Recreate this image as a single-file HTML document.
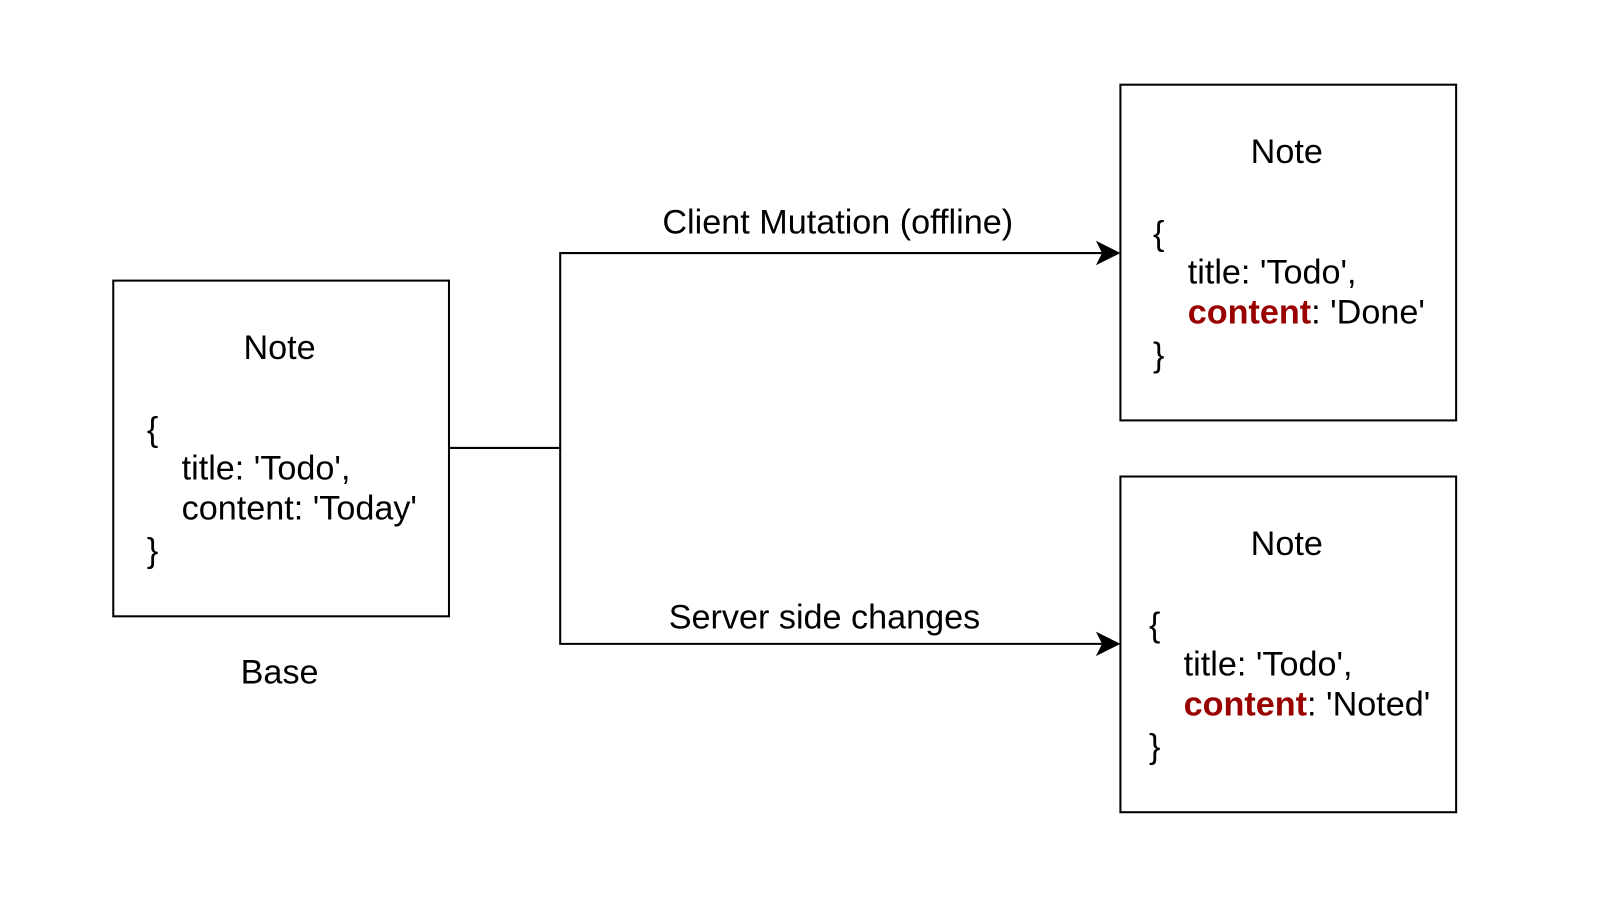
<!DOCTYPE html>
<html><head><meta charset="utf-8"><style>
html,body{margin:0;padding:0;background:#fff;}
svg{display:block;}
text{font-family:"Liberation Sans",Arial,sans-serif;font-size:33.5px;fill:#000;}
.r{fill:#990000;font-weight:bold;}
</style></head><body>
<svg width="1600" height="901" viewBox="0 0 1568 883" preserveAspectRatio="none" xmlns="http://www.w3.org/2000/svg">
<g fill="none" stroke="#000" stroke-width="2">
<rect x="111" y="275" width="329" height="329"/>
<rect x="1098" y="83" width="329" height="329"/>
<rect x="1098" y="467" width="329" height="329"/>
<path d="M440 439 H549 V248 H1086"/>
<path d="M549 439 V631 H1086"/>
</g>
<path d="M1074 236 L1098 248 L1074 260 L1080 248 Z" fill="#000"/>
<path d="M1074 619 L1098 631 L1074 643 L1080 631 Z" fill="#000"/>

<text x="274" y="352" text-anchor="middle">Note</text>
<text x="144" y="432">{</text>
<text x="178" y="470">title: 'Todo',</text>
<text x="178" y="509">content: 'Today'</text>
<text x="144" y="551">}</text>
<text x="274" y="670" text-anchor="middle">Base</text>

<text x="821" y="229" text-anchor="middle">Client Mutation (offline)</text>
<text x="808" y="616" text-anchor="middle">Server side changes</text>

<text x="1261" y="160" text-anchor="middle">Note</text>
<text x="1130" y="240">{</text>
<text x="1164" y="278">title: 'Todo',</text>
<text x="1164" y="317"><tspan class="r">content</tspan>: 'Done'</text>
<text x="1130" y="359">}</text>

<text x="1261" y="544" text-anchor="middle">Note</text>
<text x="1126" y="624">{</text>
<text x="1160" y="662">title: 'Todo',</text>
<text x="1160" y="701"><tspan class="r">content</tspan>: 'Noted'</text>
<text x="1126" y="743">}</text>
</svg>
</body></html>
